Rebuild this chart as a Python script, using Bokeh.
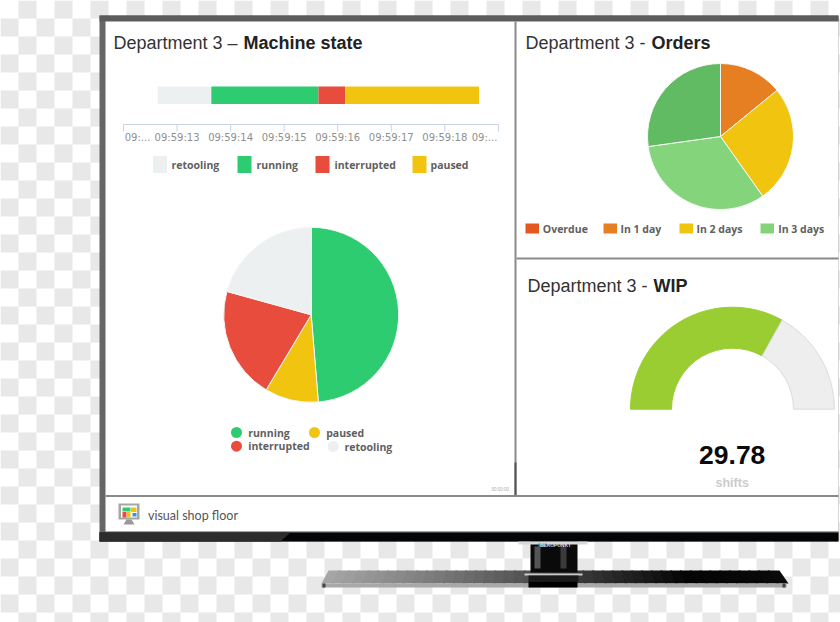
import numpy as np
from bokeh.plotting import figure
from bokeh.models import Range1d
from bokeh.core.properties import value
from bokeh.embed import file_html
from bokeh.resources import INLINE

# ---------- data ----------
state_names = ["retooling", "running", "interrupted", "paused"]
state_colors = ["#ecf0f1", "#2ecc71", "#e74c3c", "#f1c40f"]
timeline_start = 12.64          # seconds after 09:59:00
timeline_durations = [1.0, 2.0, 0.5, 2.5]
tick_seconds = [12, 13, 14, 15, 16, 17, 18, 19]
tick_labels = ["09:...", "09:59:13", "09:59:14", "09:59:15", "09:59:16", "09:59:17", "09:59:18", "09:..."]

machine_names = ["running", "paused", "interrupted", "retooling"]
machine_values = [48.7, 9.9, 20.7, 20.7]
machine_colors = ["#2ecc71", "#f1c40f", "#e74c3c", "#ecf0f1"]

order_names = ["Overdue", "In 1 day", "In 2 days", "In 3 days"]
order_legend_colors = ["#e2581f", "#e67e22", "#f1c40f", "#82d37a"]
order_values = [14.1, 26.1, 32.6, 27.2]
order_colors = ["#e67e22", "#f1c40f", "#84d47c", "#60bb63"]

wip_value = 29.78
wip_max = 45.0

SANS = "Liberation Sans"
LEG = "Open Sans"

# ---------- page ----------
W, H = 840, 622
p = figure(width=W, height=H, x_range=Range1d(0, W), y_range=Range1d(0, H),
           x_axis_type=None, y_axis_type=None, toolbar_location=None,
           output_backend="svg", min_border=0, outline_line_color=None,
           background_fill_color="white", border_fill_color="white")
p.grid.visible = False


def Y(y):
    return H - y


def box(x0, y0, x1, y1, color):
    p.quad(left=[x0], right=[x1], top=[Y(y0)], bottom=[Y(y1)],
           fill_color=color, line_color=None)


def label(x, y, s, size, color="#333333", font=SANS, style="normal", align="left"):
    p.text(x=[x], y=[Y(y)], text=[s], text_font=value(font), text_font_size=size,
           text_color=color, text_font_style=style, text_align=align, text_baseline="middle")


def pie(cx, cy, r, values, colors, line="#f6f6f6"):
    edges = np.concatenate([[0.0], np.cumsum(values)]) / float(np.sum(values)) * 2 * np.pi
    p.wedge(x=[cx] * len(values), y=[Y(cy)] * len(values), radius=r,
            start_angle=np.pi / 2 - edges[1:], end_angle=np.pi / 2 - edges[:-1],
            direction="anticlock", fill_color=colors, line_color=line, line_width=1)


# checkerboard
cl, cb = [], []
for j in range(0, 35):
    for i in range(0, 47):
        if (i + j) % 2 == 1:
            cl.append(i * 18)
            cb.append(j * 18)
cl, cb = np.array(cl), np.array(cb)
p.quad(left=cl, right=cl + 18, top=H - cb, bottom=H - cb - 18, fill_color="#e8e8e8", line_color=None)

# monitor
box(99, 15, 838, 541, "#666666")
box(99, 15, 838, 21, "#5c5c5c")
box(105, 21, 838, 531, "#ffffff")
box(105, 531, 838, 532, "#7f9ab5")
box(99, 532, 838, 541, "#050505")
p.patch(x=[99, 290, 280, 99], y=[Y(532), Y(532), Y(541), Y(541)], fill_color="#2c2c2c", line_color=None)

# panel rules
box(514, 21, 516, 495, "#8a8a8a")
box(514, 462, 516, 495, "#555555")
box(516, 257, 838, 259, "#8a8a8a")
box(105, 494.5, 838, 496.5, "#8a8a8a")

# stand
n = 46
greys = np.interp(np.linspace(0, 1, n), [0, 0.25, 0.5, 0.8, 1], [165, 120, 70, 5, 10])
xs, ys, fc = [], [], []
for k in range(n):
    a, b = k / n, (k + 1.2) / n
    xs.append([328 + 449 * a, 328 + 449 * b, 321 + 465 * b, 321 + 465 * a])
    ys.append([Y(570), Y(570), Y(583), Y(583)])
    g = int(greys[k])
    fc.append(f"#{g:02x}{g:02x}{g:02x}")
p.patches(xs, ys, fill_color=fc, line_color=None)
box(321, 583, 786, 587, "#a8a8a8")
box(322, 583, 325, 587, "#444444")
box(782, 583, 785, 587, "#444444")
box(530, 541, 577, 572, "#0a0a0a")
box(518, 541, 587, 544, "#d8d8d8")
box(534, 546, 540, 568, "#555555")
box(560, 546, 566, 568, "#3a3a3a")
box(538, 543, 546, 546, "#2f8fd0")
box(524, 573, 582, 575, "#cccccc")
box(528, 575, 578, 581, "#1a1a1a")
box(528, 581, 577, 587, "#000000")
label(555, 544, "BLAUPUNKT", "5px", "#dddddd", style="bold", align="center")

# footer logo
box(118, 503, 139, 519, "#a6a6a6")
box(120.5, 505, 136.5, 517, "#ffffff")
box(122, 507, 130, 511, "#2ecc71")
box(130.5, 507, 136, 511.5, "#f1c40f")
box(122, 511.5, 126, 517, "#e74c3c")
box(126.5, 511.5, 130, 517, "#f1c40f")
box(132, 512.5, 136, 516, "#3498db")
p.patch(x=[126, 131, 134, 123], y=[Y(519), Y(519), Y(524), Y(524)], fill_color="#9a9a9a", line_color=None)
label(147.5, 515, "visual shop floor", "12.5px", "#555555", font="Lato")
label(491, 489, "00:00:00", "4.5px", "#aaaaaa")

# ---------- machine state ----------
label(113, 42, "Department 3 \u2013 ", "18px", "#333333")
label(243, 42, "Machine state", "18px", "#222222", style="bold")

PX0, PXS = 123.0, 53.55     # page x of second 12, px per second


def tx(t):
    return PX0 + (np.asarray(t, dtype=float) - tick_seconds[0]) * PXS


ends = timeline_start + np.cumsum(timeline_durations)
starts = ends - np.array(timeline_durations)
p.quad(left=tx(starts), right=tx(ends), top=Y(86), bottom=Y(103.5), fill_color=state_colors, line_color=None)

p.segment(x0=[float(tx(tick_seconds[0]))], x1=[float(tx(tick_seconds[-1]))], y0=[Y(124)], y1=[Y(124)],
          line_color="#c6d4e6", line_width=1)
tks = tx(tick_seconds)
p.segment(x0=tks, x1=tks, y0=[Y(124)] * len(tks), y1=[Y(131)] * len(tks), line_color="#c6d4e6", line_width=1)
for i, (t, s) in enumerate(zip(tick_seconds, tick_labels)):
    cx = float(tx(t))
    if i == 0:
        cx = 137
    if i == len(tick_labels) - 1:
        cx = 484
    label(cx, 137, s, "10px", "#8f8f8f", font="DejaVu Sans", align="center")

for x, name, c, tw in zip([152.5, 237, 315, 412], state_names, state_colors, [171, 256, 334, 430]):
    box(x, 155.5, x + 14, 172.5, c)
    label(tw, 164, name, "10.5px", "#606060", font=LEG, style="bold")

pie(310.7, 314.3, 87.5, machine_values, machine_colors)

mx = [236, 314, 236, 332.7]
my = [432, 432, 445.7, 446]
mt = [247.7, 325.7, 247.7, 344]
p.scatter(x=mx, y=[Y(v) for v in my], size=11, marker="circle", fill_color=machine_colors, line_color=None)
for x, y, name in zip(mt, my, machine_names):
    label(x, y, name, "10.5px", "#606060", font=LEG, style="bold")

# ---------- orders ----------
label(525, 42, "Department 3 - ", "18px", "#333333")
label(651, 42, "Orders", "18px", "#222222", style="bold")
pie(720, 136, 73, order_values, order_colors)
for x, name, c, tw in zip([525, 603, 679, 760], order_names, order_legend_colors, [542.3, 620, 696, 777.7]):
    box(x, 223, x + 13.5, 233, c)
    label(tw, 228.3, name, "10.5px", "#606060", font=LEG, style="bold")

# ---------- WIP ----------
label(527, 285, "Department 3 - ", "18px", "#333333")
label(653, 285, "WIP", "18px", "#222222", style="bold")

split = np.pi - wip_value / wip_max * np.pi
p.annular_wedge(x=[732, 732], y=[Y(408.7), Y(408.7)], inner_radius=61, outer_radius=102,
                start_angle=[split, 0.0], end_angle=[np.pi, split], direction="anticlock",
                fill_color=["#9acd32", "#eeeeee"], line_color=["#9acd32", "#dcdcdc"], line_width=1)

label(731.7, 454, f"{wip_value:.2f}", "26.5px", "#0a0a0a", style="bold", align="center")
label(731.7, 482, "shifts", "12.5px", "#cccccc", style="bold", align="center")

open("out.html", "w").write(file_html(p, INLINE))
